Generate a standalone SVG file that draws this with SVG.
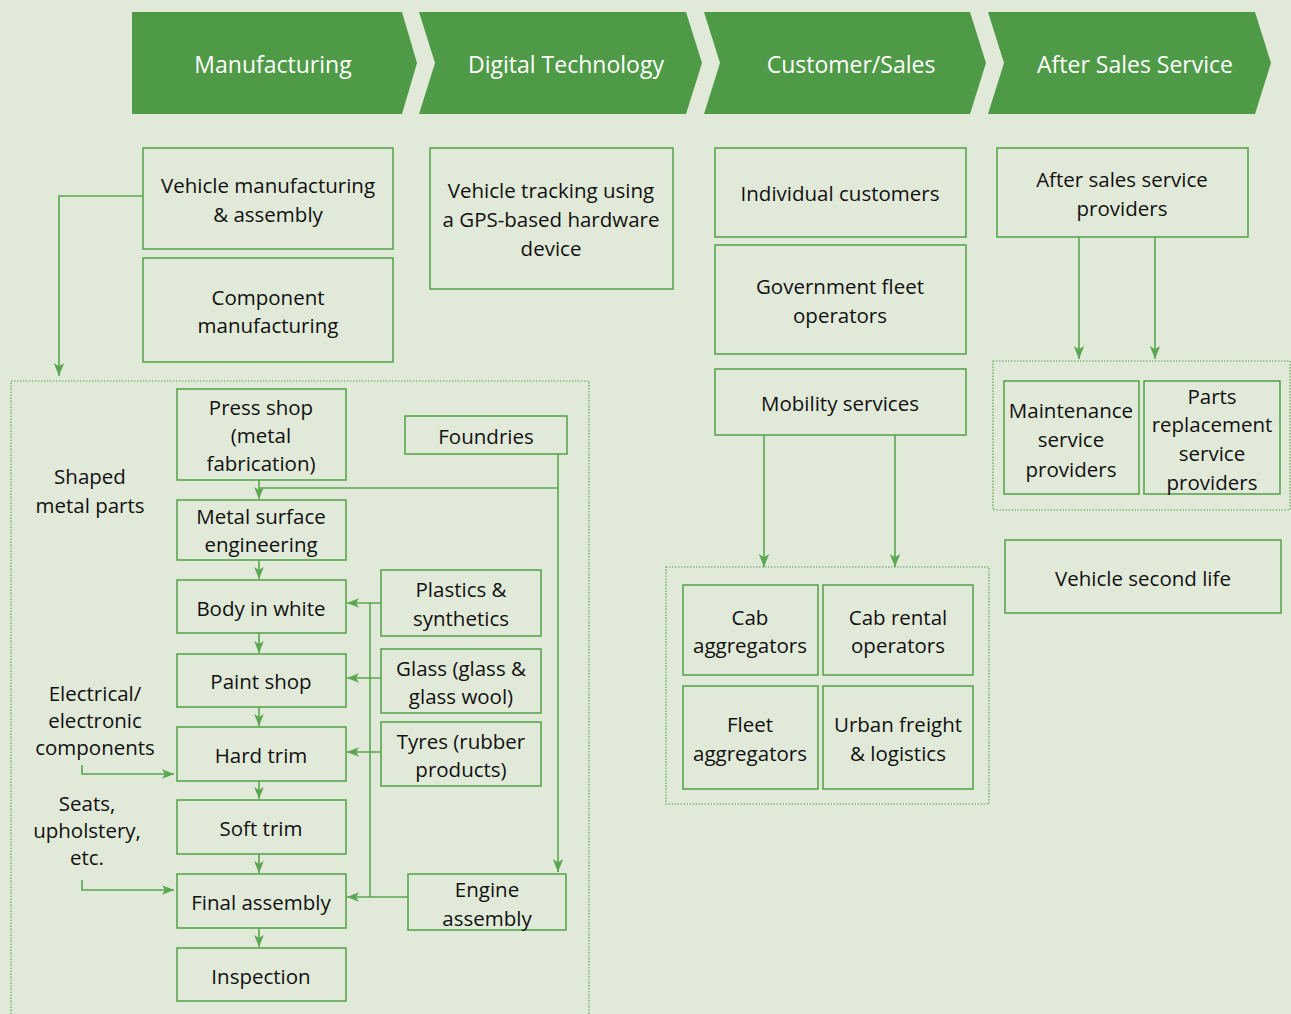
<svg xmlns="http://www.w3.org/2000/svg" width="1291" height="1014" viewBox="0 0 1291 1014">
<defs>
<style>
.bg{fill:#e1e9d8}
.hdr{fill:#4f9a47}
.ht{fill:#ffffff;font-family:"Open Sans","Noto Sans",sans-serif;font-size:23px;text-anchor:middle}
.box{fill:none;stroke:#5aa651;stroke-width:1.6}
.cont{fill:none;stroke:#5aa651;stroke-width:1.2;stroke-dasharray:1.5 1.5}
.t{fill:#111;font-family:"Open Sans","Noto Sans",sans-serif;font-size:20.5px;text-anchor:middle}
.c{fill:none;stroke:#5aa651;stroke-width:1.6}
</style>
<marker id="ah" viewBox="0 0 10 10" refX="10" refY="5" markerWidth="13" markerHeight="13" markerUnits="userSpaceOnUse" orient="auto">
<path d="M0,1 L10,5 L0,9 L2.5,5 z" fill="#5aa651"/>
</marker>
<marker id="ahs" viewBox="0 0 10 10" refX="10" refY="5" markerWidth="12" markerHeight="12" markerUnits="userSpaceOnUse" orient="auto">
<path d="M0,1 L10,5 L0,9 L2.5,5 z" fill="#5aa651"/>
</marker>
</defs>
<rect class="bg" x="0" y="0" width="1291" height="1014"/>

<g id="hdr-manufacturing">
<polygon class="hdr" points="132,12 402,12 417,63 402,114 132,114"/>
<text class="ht" x="273" y="73">Manufacturing</text>
</g>
<g id="hdr-digital">
<polygon class="hdr" points="419,12 686,12 702,63 686,114 419,114 435,63"/>
<text class="ht" x="566" y="73">Digital Technology</text>
</g>
<g id="hdr-customer">
<polygon class="hdr" points="704,12 970,12 986,63 970,114 704,114 720,63"/>
<text class="ht" x="851" y="73">Customer/Sales</text>
</g>
<g id="hdr-aftersales">
<polygon class="hdr" points="988,12 1255,12 1271,63 1255,114 988,114 1004,63"/>
<text class="ht" x="1135" y="73">After Sales Service</text>
</g>

<g id="containers">
<rect class="cont" x="11" y="381" width="578" height="640"/>
<rect class="cont" x="666" y="567" width="323" height="237"/>
<rect class="cont" x="993" y="361" width="297" height="149"/>
</g>

<g id="connectors">
<polyline class="c" points="143,196 59,196 59,376" marker-end="url(#ah)"/>
<line class="c" x1="764" y1="435" x2="764" y2="567" marker-end="url(#ah)"/>
<line class="c" x1="895" y1="435" x2="895" y2="567" marker-end="url(#ah)"/>
<line class="c" x1="1079" y1="237" x2="1079" y2="359" marker-end="url(#ah)"/>
<line class="c" x1="1155" y1="237" x2="1155" y2="359" marker-end="url(#ah)"/>
<line class="c" x1="259" y1="480" x2="259" y2="499" marker-end="url(#ahs)"/>
<polyline class="c" points="558,454 558,872" marker-end="url(#ah)"/>
<line class="c" x1="558" y1="488" x2="259" y2="488"/>
<line class="c" x1="259" y1="560" x2="259" y2="579" marker-end="url(#ahs)"/>
<line class="c" x1="259" y1="633" x2="259" y2="653" marker-end="url(#ahs)"/>
<line class="c" x1="259" y1="707" x2="259" y2="726" marker-end="url(#ahs)"/>
<line class="c" x1="259" y1="781" x2="259" y2="799" marker-end="url(#ahs)"/>
<line class="c" x1="259" y1="854" x2="259" y2="873" marker-end="url(#ahs)"/>
<line class="c" x1="259" y1="928" x2="259" y2="947" marker-end="url(#ahs)"/>
<line class="c" x1="370" y1="603" x2="370" y2="897"/>
<line class="c" x1="381" y1="603" x2="347" y2="603" marker-end="url(#ahs)"/>
<line class="c" x1="381" y1="678" x2="347" y2="678" marker-end="url(#ahs)"/>
<line class="c" x1="381" y1="752" x2="347" y2="752" marker-end="url(#ahs)"/>
<line class="c" x1="408" y1="897" x2="347" y2="897" marker-end="url(#ahs)"/>
<polyline class="c" points="82,765 82,774 174,774" marker-end="url(#ahs)"/>
<polyline class="c" points="82,880 82,890 174,890" marker-end="url(#ahs)"/>
</g>

<g id="n-vehicle-mfg">
<rect class="box" x="143" y="148" width="250" height="101"/>
<text class="t" x="268" y="193">Vehicle manufacturing</text>
<text class="t" x="268" y="222">&amp; assembly</text>
</g>
<g id="n-component-mfg">
<rect class="box" x="143" y="258" width="250" height="104"/>
<text class="t" x="268" y="305">Component</text>
<text class="t" x="268" y="333">manufacturing</text>
</g>
<g id="n-vehicle-tracking">
<rect class="box" x="430" y="148" width="243" height="141"/>
<text class="t" x="551" y="198">Vehicle tracking using</text>
<text class="t" x="551" y="227">a GPS-based hardware</text>
<text class="t" x="551" y="256">device</text>
</g>
<g id="n-individual">
<rect class="box" x="715" y="148" width="251" height="89"/>
<text class="t" x="840" y="201">Individual customers</text>
</g>
<g id="n-government">
<rect class="box" x="715" y="245" width="251" height="109"/>
<text class="t" x="840" y="294">Government fleet</text>
<text class="t" x="840" y="323">operators</text>
</g>
<g id="n-mobility">
<rect class="box" x="715" y="369" width="251" height="66"/>
<text class="t" x="840" y="411">Mobility services</text>
</g>
<g id="n-aftersales-providers">
<rect class="box" x="997" y="148" width="251" height="89"/>
<text class="t" x="1122" y="187">After sales service</text>
<text class="t" x="1122" y="216">providers</text>
</g>
<g id="n-maintenance">
<rect class="box" x="1004" y="381" width="135" height="113"/>
<text class="t" x="1071" y="418">Maintenance</text>
<text class="t" x="1071" y="447">service</text>
<text class="t" x="1071" y="477">providers</text>
</g>
<g id="n-parts">
<rect class="box" x="1144" y="381" width="136" height="113"/>
<text class="t" x="1212" y="404">Parts</text>
<text class="t" x="1212" y="432">replacement</text>
<text class="t" x="1212" y="461">service</text>
<text class="t" x="1212" y="490">providers</text>
</g>
<g id="n-second-life">
<rect class="box" x="1005" y="540" width="276" height="73"/>
<text class="t" x="1143" y="586">Vehicle second life</text>
</g>
<g id="n-cab-agg">
<rect class="box" x="683" y="585" width="135" height="90"/>
<text class="t" x="750" y="625">Cab</text>
<text class="t" x="750" y="653">aggregators</text>
</g>
<g id="n-cab-rental">
<rect class="box" x="823" y="585" width="150" height="90"/>
<text class="t" x="898" y="625">Cab rental</text>
<text class="t" x="898" y="653">operators</text>
</g>
<g id="n-fleet-agg">
<rect class="box" x="683" y="686" width="135" height="103"/>
<text class="t" x="750" y="732">Fleet</text>
<text class="t" x="750" y="761">aggregators</text>
</g>
<g id="n-urban">
<rect class="box" x="823" y="686" width="150" height="103"/>
<text class="t" x="898" y="732">Urban freight</text>
<text class="t" x="898" y="761">&amp; logistics</text>
</g>

<g id="n-press">
<rect class="box" x="177" y="389" width="169" height="91"/>
<text class="t" x="261" y="415">Press shop</text>
<text class="t" x="261" y="443">(metal</text>
<text class="t" x="261" y="471">fabrication)</text>
</g>
<g id="n-metal-surface">
<rect class="box" x="177" y="500" width="169" height="60"/>
<text class="t" x="261" y="524">Metal surface</text>
<text class="t" x="261" y="552">engineering</text>
</g>
<g id="n-biw">
<rect class="box" x="177" y="580" width="169" height="53"/>
<text class="t" x="261" y="616">Body in white</text>
</g>
<g id="n-paint">
<rect class="box" x="177" y="654" width="169" height="53"/>
<text class="t" x="261" y="689">Paint shop</text>
</g>
<g id="n-hard-trim">
<rect class="box" x="177" y="727" width="169" height="54"/>
<text class="t" x="261" y="763">Hard trim</text>
</g>
<g id="n-soft-trim">
<rect class="box" x="177" y="800" width="169" height="54"/>
<text class="t" x="261" y="836">Soft trim</text>
</g>
<g id="n-final">
<rect class="box" x="177" y="874" width="169" height="54"/>
<text class="t" x="261" y="910">Final assembly</text>
</g>
<g id="n-inspection">
<rect class="box" x="177" y="948" width="169" height="53"/>
<text class="t" x="261" y="984">Inspection</text>
</g>
<g id="n-foundries">
<rect class="box" x="405" y="416" width="162" height="38"/>
<text class="t" x="486" y="444">Foundries</text>
</g>
<g id="n-plastics">
<rect class="box" x="381" y="570" width="160" height="66"/>
<text class="t" x="461" y="597">Plastics &amp;</text>
<text class="t" x="461" y="626">synthetics</text>
</g>
<g id="n-glass">
<rect class="box" x="381" y="649" width="160" height="64"/>
<text class="t" x="461" y="676">Glass (glass &amp;</text>
<text class="t" x="461" y="704">glass wool)</text>
</g>
<g id="n-tyres">
<rect class="box" x="381" y="722" width="160" height="64"/>
<text class="t" x="461" y="749">Tyres (rubber</text>
<text class="t" x="461" y="777">products)</text>
</g>
<g id="n-engine">
<rect class="box" x="408" y="874" width="158" height="56"/>
<text class="t" x="487" y="897">Engine</text>
<text class="t" x="487" y="926">assembly</text>
</g>

<g id="labels">
<text class="t" x="90" y="484">Shaped</text>
<text class="t" x="90" y="513">metal parts</text>
<text class="t" x="95" y="701">Electrical/</text>
<text class="t" x="95" y="728">electronic</text>
<text class="t" x="95" y="755">components</text>
<text class="t" x="87" y="811">Seats,</text>
<text class="t" x="87" y="838">upholstery,</text>
<text class="t" x="87" y="865">etc.</text>
</g>
</svg>
